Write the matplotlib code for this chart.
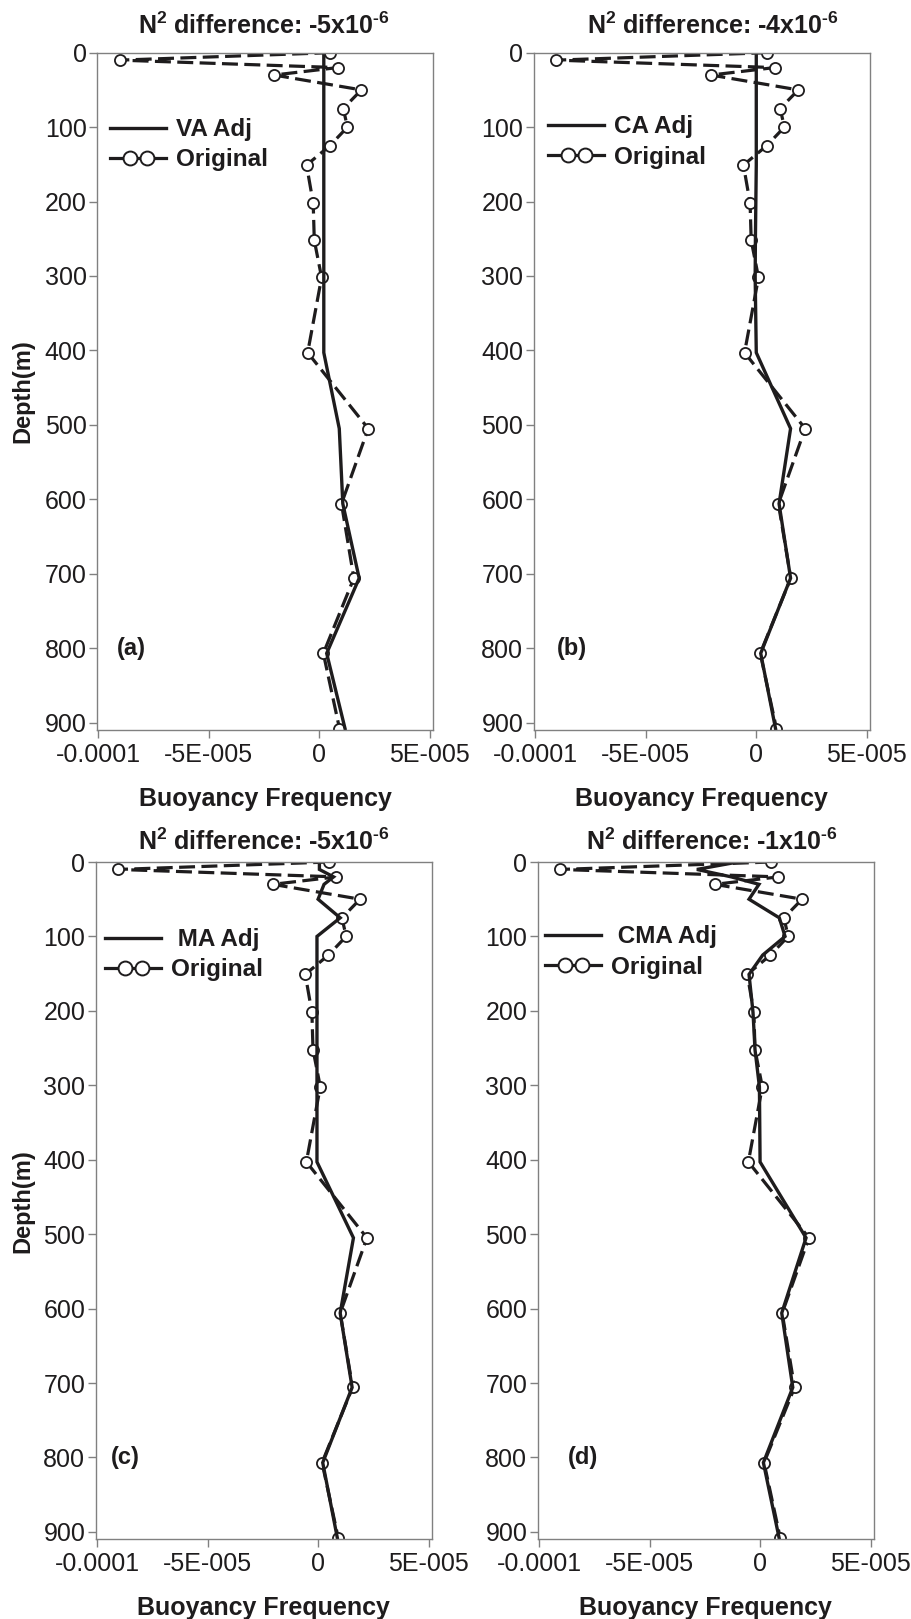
import numpy as np
import matplotlib.pyplot as plt
from matplotlib.lines import Line2D
from matplotlib.legend_handler import HandlerLine2D, HandlerTuple

plt.rcParams['font.family'] = ['Liberation Sans', 'DejaVu Sans']
plt.rcParams['mathtext.fontset'] = 'custom'
plt.rcParams['mathtext.rm'] = 'Liberation Sans'
plt.rcParams['mathtext.bf'] = 'Liberation Sans:bold'

# depth levels (m) and buoyancy frequency values (units of 1e-5)
depth = [0, 10, 20, 30, 50, 75, 100, 125, 151, 202, 252, 302, 403, 505, 606, 706, 807, 908]
original = [0.5, -9.03, 0.83, -2.05, 1.9, 1.08, 1.27, 0.47, -0.58, -0.28, -0.23, 0.1,
            -0.53, 2.21, 1.0, 1.56, 0.18, 0.91]
va_adj = [0.2, 0.2, 0.2, 0.2, 0.2, 0.2, 0.2, 0.2, 0.2, 0.2, 0.2, 0.2,
          0.2, 0.9, 1.06, 1.8, 0.33, 1.16]
ca_adj = [0.0, 0.0, 0.0, 0.0, 0.0, 0.0, 0.0, 0.0, 0.0, -0.02, -0.04, -0.05,
          0.0, 1.55, 1.03, 1.55, 0.2, 0.87]
ma_adj = [0.06, 0.06, 0.7, 0.27, 0.0, 1.0, -0.05, -0.05, -0.05, -0.05, -0.05, -0.05,
          -0.05, 1.6, 1.0, 1.54, 0.21, 0.87]
cma_adj = [-1.0, -2.86, -1.3, -0.05, -0.5, 0.87, 1.13, 0.12, -0.5, -0.32, -0.23, -0.03,
           0.0, 2.08, 0.98, 1.48, 0.15, 0.86]

adj_labels = ['VA Adj', 'CA Adj', ' MA Adj', ' CMA Adj']
panel_tags = ['(a)', '(b)', '(c)', '(d)']
# U+2010 hyphen keeps mathtext from turning it into a long minus
titles = [r'N$^{\mathbf{2}}$ difference: -5x10$^{\mathbf{‐6}}$',
          r'N$^{\mathbf{2}}$ difference: -4x10$^{\mathbf{‐6}}$',
          r'N$^{\mathbf{2}}$ difference: -5x10$^{\mathbf{‐6}}$',
          r'N$^{\mathbf{2}}$ difference: -1x10$^{\mathbf{‐6}}$']
xtick_vals = [-1e-4, -5e-5, 0, 5e-5]
xtick_labels = ['-0.0001', '-5E-005', '0', '5E-005']
ytick_vals = [0, 100, 200, 300, 400, 500, 600, 700, 800, 900]

W, H = 911, 1619
ink = '#1e1c1d'
gray = '#808080'

# axes boxes in pixels: left, top, right, bottom
boxes = [(97, 52.7, 433, 730), (533.7, 52.7, 870, 730),
         (95.7, 862, 431.7, 1539.3), (537.7, 862, 873.7, 1539.3)]
title_pos = [(263.5, 34), (713, 34), (263.5, 850), (712, 850)]
leg_pos = [(0.039, 0.864), (0.043, 0.868), (0.028, 0.863), (0.022, 0.867)]
tag_x = [0.06, 0.07, 0.044, 0.09]

fig = plt.figure(figsize=(W / 100, H / 100), dpi=100)

for i, adj in enumerate([va_adj, ca_adj, ma_adj, cma_adj]):
    l, t, r, b = boxes[i]
    ax = fig.add_axes([l / W, 1 - b / H, (r - l) / W, (b - t) / H])
    x_orig = np.array(original) * 1e-5
    x_adj = np.array(adj) * 1e-5

    ax.plot(x_orig, depth, color=ink, lw=2.3, dashes=(5, 2), marker='o', ms=8,
            mfc='white', mec=ink, mew=1.3)
    ax.plot(x_adj, depth, color=ink, lw=2.4, solid_joinstyle='miter')

    ax.set_xlim(-1.006e-4, 5.14e-5)
    ax.set_ylim(910, 0)
    ax.set_xticks(xtick_vals)
    ax.set_xticklabels(xtick_labels)
    ax.set_yticks(ytick_vals)
    ax.set_yticklabels([str(v) for v in ytick_vals])
    ax.tick_params(direction='out', length=6, width=1, color=gray,
                   labelsize=18, labelcolor=ink)
    ax.tick_params(axis='x', pad=3.5)
    ax.tick_params(axis='y', pad=1.5)
    for s in ax.spines.values():
        s.set_color(gray)
        s.set_linewidth(1)

    ax.set_xlabel('Buoyancy Frequency', fontsize=18, fontweight='bold', color=ink,
                  labelpad=14)
    fig.text(title_pos[i][0] / W, 1 - title_pos[i][1] / H, titles[i], fontsize=18,
             fontweight='bold', color=ink, ha='center', va='baseline')
    ax.text(tag_x[i], 1 - 800 / 910, panel_tags[i], transform=ax.transAxes,
            fontsize=17, fontweight='bold', color=ink, va='center', ha='left')

    # legend: solid line, and "-O-O-" made of a full-length line plus two markers
    h_adj = Line2D([], [], color=ink, lw=2.4)
    h_line = Line2D([], [], color=ink, lw=2.3)
    h_marks = Line2D([], [], ls='none', marker='o', ms=10, mfc='white',
                     mec=ink, mew=1.4)
    ax.legend([h_adj, (h_line, h_marks)], [adj_labels[i], 'Original'],
              loc='center left', bbox_to_anchor=leg_pos[i], frameon=False,
              borderpad=0, borderaxespad=0, handlelength=2.3, handletextpad=0.4,
              labelspacing=0.3, numpoints=2,
              prop={'size': 17.5, 'weight': 'bold'}, labelcolor=ink,
              handler_map={tuple: HandlerTuple(ndivide=1, pad=0),
                           h_adj: HandlerLine2D(marker_pad=0),
                           h_line: HandlerLine2D(marker_pad=0),
                           h_marks: HandlerLine2D(marker_pad=0.8)})

    if i % 2 == 0:
        fig.text(23 / W, 1 - ((t + b) / 2) / H, 'Depth(m)', rotation=90, fontsize=17,
                 fontweight='bold', color=ink, ha='center', va='center')

fig.savefig('out.png', dpi=100)
